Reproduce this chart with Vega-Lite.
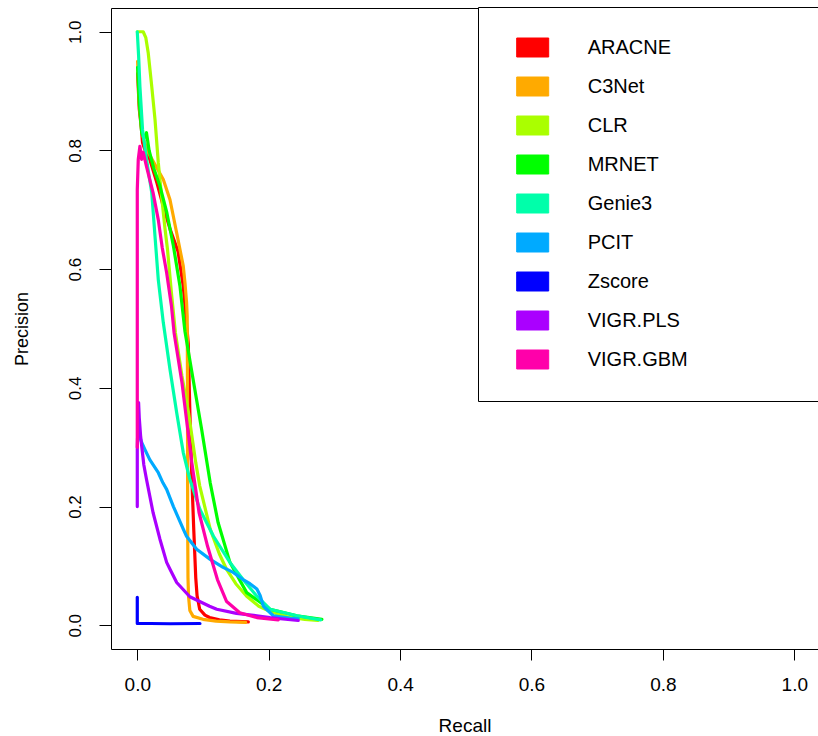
{
"$schema": "https://vega.github.io/schema/vega-lite/v6.json",
"width": 707, "height": 641,
"autosize": {"type": "none"},
"padding": {"left": 111, "top": 8, "right": 0, "bottom": 87},
"background": "white",
"config": {"font": "Liberation Sans", "view": {"stroke": "black", "strokeWidth": 1}},
"datasets": {"pr": [
{"m":"ARACNE","i":0,"r":0.0005,"p":0.93},{"m":"ARACNE","i":1,"r":0.003,"p":0.87},{"m":"ARACNE","i":2,"r":0.006,"p":0.84},{"m":"ARACNE","i":3,"r":0.008,"p":0.813},{"m":"ARACNE","i":4,"r":0.012,"p":0.80},{"m":"ARACNE","i":5,"r":0.019,"p":0.785},{"m":"ARACNE","i":6,"r":0.03,"p":0.745},{"m":"ARACNE","i":7,"r":0.0396,"p":0.706},{"m":"ARACNE","i":8,"r":0.05,"p":0.667},{"m":"ARACNE","i":9,"r":0.062,"p":0.63},{"m":"ARACNE","i":10,"r":0.07,"p":0.571},{"m":"ARACNE","i":11,"r":0.0776,"p":0.475},{"m":"ARACNE","i":12,"r":0.08,"p":0.36},{"m":"ARACNE","i":13,"r":0.083,"p":0.25},{"m":"ARACNE","i":14,"r":0.086,"p":0.16},{"m":"ARACNE","i":15,"r":0.089,"p":0.08},{"m":"ARACNE","i":16,"r":0.091,"p":0.05},{"m":"ARACNE","i":17,"r":0.095,"p":0.027},{"m":"ARACNE","i":18,"r":0.103,"p":0.017},{"m":"ARACNE","i":19,"r":0.11,"p":0.013},{"m":"ARACNE","i":20,"r":0.125,"p":0.009},{"m":"ARACNE","i":21,"r":0.141,"p":0.007},{"m":"ARACNE","i":22,"r":0.169,"p":0.0056},
{"m":"C3Net","i":0,"r":0.0005,"p":0.95},{"m":"C3Net","i":1,"r":0.003,"p":0.88},{"m":"C3Net","i":2,"r":0.007,"p":0.83},{"m":"C3Net","i":3,"r":0.015,"p":0.80},{"m":"C3Net","i":4,"r":0.025,"p":0.78},{"m":"C3Net","i":5,"r":0.0396,"p":0.751},{"m":"C3Net","i":6,"r":0.0498,"p":0.717},{"m":"C3Net","i":7,"r":0.06,"p":0.661},{"m":"C3Net","i":8,"r":0.065,"p":0.633},{"m":"C3Net","i":9,"r":0.07,"p":0.605},{"m":"C3Net","i":10,"r":0.0726,"p":0.577},{"m":"C3Net","i":11,"r":0.075,"p":0.544},{"m":"C3Net","i":12,"r":0.076,"p":0.52},{"m":"C3Net","i":13,"r":0.0763,"p":0.45},{"m":"C3Net","i":14,"r":0.0765,"p":0.35},{"m":"C3Net","i":15,"r":0.0766,"p":0.25},{"m":"C3Net","i":16,"r":0.0768,"p":0.15},{"m":"C3Net","i":17,"r":0.0772,"p":0.08},{"m":"C3Net","i":18,"r":0.078,"p":0.049},{"m":"C3Net","i":19,"r":0.08,"p":0.025},{"m":"C3Net","i":20,"r":0.085,"p":0.015},{"m":"C3Net","i":21,"r":0.1,"p":0.01},{"m":"C3Net","i":22,"r":0.12,"p":0.007},{"m":"C3Net","i":23,"r":0.141,"p":0.0056},{"m":"C3Net","i":24,"r":0.165,"p":0.005},
{"m":"CLR","i":0,"r":0,"p":1.0},{"m":"CLR","i":1,"r":0.009,"p":1.0},{"m":"CLR","i":2,"r":0.013,"p":0.99},{"m":"CLR","i":3,"r":0.0167,"p":0.964},{"m":"CLR","i":4,"r":0.022,"p":0.908},{"m":"CLR","i":5,"r":0.027,"p":0.852},{"m":"CLR","i":6,"r":0.032,"p":0.779},{"m":"CLR","i":7,"r":0.037,"p":0.723},{"m":"CLR","i":8,"r":0.042,"p":0.67},{"m":"CLR","i":9,"r":0.046,"p":0.633},{"m":"CLR","i":10,"r":0.052,"p":0.56},{"m":"CLR","i":11,"r":0.058,"p":0.493},{"m":"CLR","i":12,"r":0.068,"p":0.42},{"m":"CLR","i":13,"r":0.078,"p":0.358},{"m":"CLR","i":14,"r":0.089,"p":0.274},{"m":"CLR","i":15,"r":0.095,"p":0.235},{"m":"CLR","i":16,"r":0.111,"p":0.162},{"m":"CLR","i":17,"r":0.125,"p":0.12},{"m":"CLR","i":18,"r":0.136,"p":0.094},{"m":"CLR","i":19,"r":0.15,"p":0.07},{"m":"CLR","i":20,"r":0.1665,"p":0.049},{"m":"CLR","i":21,"r":0.185,"p":0.032},{"m":"CLR","i":22,"r":0.205,"p":0.022},{"m":"CLR","i":23,"r":0.23,"p":0.014},{"m":"CLR","i":24,"r":0.255,"p":0.01},{"m":"CLR","i":25,"r":0.275,"p":0.008},
{"m":"MRNET","i":0,"r":0.0005,"p":0.94},{"m":"MRNET","i":1,"r":0.003,"p":0.88},{"m":"MRNET","i":2,"r":0.0067,"p":0.83},{"m":"MRNET","i":3,"r":0.01,"p":0.82},{"m":"MRNET","i":4,"r":0.014,"p":0.83},{"m":"MRNET","i":5,"r":0.018,"p":0.80},{"m":"MRNET","i":6,"r":0.025,"p":0.77},{"m":"MRNET","i":7,"r":0.0345,"p":0.74},{"m":"MRNET","i":8,"r":0.045,"p":0.695},{"m":"MRNET","i":9,"r":0.055,"p":0.639},{"m":"MRNET","i":10,"r":0.065,"p":0.571},{"m":"MRNET","i":11,"r":0.0726,"p":0.495},{"m":"MRNET","i":12,"r":0.085,"p":0.414},{"m":"MRNET","i":13,"r":0.098,"p":0.33},{"m":"MRNET","i":14,"r":0.111,"p":0.24},{"m":"MRNET","i":15,"r":0.123,"p":0.173},{"m":"MRNET","i":16,"r":0.141,"p":0.106},{"m":"MRNET","i":17,"r":0.1665,"p":0.055},{"m":"MRNET","i":18,"r":0.202,"p":0.027},{"m":"MRNET","i":19,"r":0.243,"p":0.016},{"m":"MRNET","i":20,"r":0.281,"p":0.010},
{"m":"Genie3","i":0,"r":0,"p":1.0},{"m":"Genie3","i":1,"r":0.002,"p":0.96},{"m":"Genie3","i":2,"r":0.004,"p":0.908},{"m":"Genie3","i":3,"r":0.008,"p":0.835},{"m":"Genie3","i":4,"r":0.014,"p":0.785},{"m":"Genie3","i":5,"r":0.022,"p":0.729},{"m":"Genie3","i":6,"r":0.027,"p":0.655},{"m":"Genie3","i":7,"r":0.032,"p":0.582},{"m":"Genie3","i":8,"r":0.0396,"p":0.51},{"m":"Genie3","i":9,"r":0.0498,"p":0.431},{"m":"Genie3","i":10,"r":0.06,"p":0.358},{"m":"Genie3","i":11,"r":0.07,"p":0.291},{"m":"Genie3","i":12,"r":0.08,"p":0.246},{"m":"Genie3","i":13,"r":0.0954,"p":0.195},{"m":"Genie3","i":14,"r":0.116,"p":0.15},{"m":"Genie3","i":15,"r":0.141,"p":0.106},{"m":"Genie3","i":16,"r":0.161,"p":0.077},{"m":"Genie3","i":17,"r":0.182,"p":0.049},{"m":"Genie3","i":18,"r":0.202,"p":0.027},{"m":"Genie3","i":19,"r":0.243,"p":0.016},{"m":"Genie3","i":20,"r":0.279,"p":0.009},
{"m":"PCIT","i":0,"r":0.001,"p":0.34},{"m":"PCIT","i":1,"r":0.003,"p":0.32},{"m":"PCIT","i":2,"r":0.0067,"p":0.308},{"m":"PCIT","i":3,"r":0.0117,"p":0.296},{"m":"PCIT","i":4,"r":0.019,"p":0.279},{"m":"PCIT","i":5,"r":0.032,"p":0.257},{"m":"PCIT","i":6,"r":0.039,"p":0.24},{"m":"PCIT","i":7,"r":0.0447,"p":0.229},{"m":"PCIT","i":8,"r":0.055,"p":0.2},{"m":"PCIT","i":9,"r":0.07,"p":0.162},{"m":"PCIT","i":10,"r":0.075,"p":0.15},{"m":"PCIT","i":11,"r":0.0904,"p":0.128},{"m":"PCIT","i":12,"r":0.111,"p":0.111},{"m":"PCIT","i":13,"r":0.13,"p":0.098},{"m":"PCIT","i":14,"r":0.146,"p":0.089},{"m":"PCIT","i":15,"r":0.161,"p":0.077},{"m":"PCIT","i":16,"r":0.1715,"p":0.07},{"m":"PCIT","i":17,"r":0.182,"p":0.061},{"m":"PCIT","i":18,"r":0.187,"p":0.05},{"m":"PCIT","i":19,"r":0.192,"p":0.032},{"m":"PCIT","i":20,"r":0.207,"p":0.016},{"m":"PCIT","i":21,"r":0.232,"p":0.012},{"m":"PCIT","i":22,"r":0.245,"p":0.011},
{"m":"Zscore","i":0,"r":0,"p":0.047},{"m":"Zscore","i":1,"r":0,"p":0.003},{"m":"Zscore","i":2,"r":0.02,"p":0.003},{"m":"Zscore","i":3,"r":0.05,"p":0.0025},{"m":"Zscore","i":4,"r":0.0954,"p":0.003},
{"m":"VIGR.PLS","i":0,"r":0,"p":0.2},{"m":"VIGR.PLS","i":1,"r":0,"p":0.30},{"m":"VIGR.PLS","i":2,"r":0.002,"p":0.375},{"m":"VIGR.PLS","i":3,"r":0.003,"p":0.35},{"m":"VIGR.PLS","i":4,"r":0.005,"p":0.32},{"m":"VIGR.PLS","i":5,"r":0.0067,"p":0.302},{"m":"VIGR.PLS","i":6,"r":0.01,"p":0.27},{"m":"VIGR.PLS","i":7,"r":0.014,"p":0.246},{"m":"VIGR.PLS","i":8,"r":0.024,"p":0.19},{"m":"VIGR.PLS","i":9,"r":0.0345,"p":0.145},{"m":"VIGR.PLS","i":10,"r":0.0447,"p":0.106},{"m":"VIGR.PLS","i":11,"r":0.05,"p":0.094},{"m":"VIGR.PLS","i":12,"r":0.06,"p":0.072},{"m":"VIGR.PLS","i":13,"r":0.08,"p":0.048},{"m":"VIGR.PLS","i":14,"r":0.11,"p":0.032},{"m":"VIGR.PLS","i":15,"r":0.121,"p":0.027},{"m":"VIGR.PLS","i":16,"r":0.151,"p":0.02},{"m":"VIGR.PLS","i":17,"r":0.182,"p":0.016},{"m":"VIGR.PLS","i":18,"r":0.202,"p":0.013},{"m":"VIGR.PLS","i":19,"r":0.245,"p":0.008},
{"m":"VIGR.GBM","i":0,"r":0,"p":0.30},{"m":"VIGR.GBM","i":1,"r":0,"p":0.5},{"m":"VIGR.GBM","i":2,"r":0,"p":0.734},{"m":"VIGR.GBM","i":3,"r":0.0015,"p":0.785},{"m":"VIGR.GBM","i":4,"r":0.004,"p":0.807},{"m":"VIGR.GBM","i":5,"r":0.0066,"p":0.785},{"m":"VIGR.GBM","i":6,"r":0.009,"p":0.797},{"m":"VIGR.GBM","i":7,"r":0.014,"p":0.773},{"m":"VIGR.GBM","i":8,"r":0.019,"p":0.751},{"m":"VIGR.GBM","i":9,"r":0.024,"p":0.729},{"m":"VIGR.GBM","i":10,"r":0.032,"p":0.683},{"m":"VIGR.GBM","i":11,"r":0.038,"p":0.636},{"m":"VIGR.GBM","i":12,"r":0.0447,"p":0.594},{"m":"VIGR.GBM","i":13,"r":0.052,"p":0.538},{"m":"VIGR.GBM","i":14,"r":0.056,"p":0.493},{"m":"VIGR.GBM","i":15,"r":0.068,"p":0.409},{"m":"VIGR.GBM","i":16,"r":0.083,"p":0.274},{"m":"VIGR.GBM","i":17,"r":0.094,"p":0.19},{"m":"VIGR.GBM","i":18,"r":0.107,"p":0.133},{"m":"VIGR.GBM","i":19,"r":0.122,"p":0.077},{"m":"VIGR.GBM","i":20,"r":0.136,"p":0.04},{"m":"VIGR.GBM","i":21,"r":0.156,"p":0.021},{"m":"VIGR.GBM","i":22,"r":0.182,"p":0.013},{"m":"VIGR.GBM","i":23,"r":0.2146,"p":0.009}
]},
"data": {"name": "pr"},
"mark": {"type": "line", "strokeWidth": 3.2, "strokeCap": "round", "strokeJoin": "round"},
"encoding": {
  "x": {"field": "r", "type": "quantitative",
    "scale": {"domain": [-0.04, 1.0361], "nice": false, "zero": false},
    "axis": {"title": "Recall", "values": [0, 0.2, 0.4, 0.6, 0.8, 1], "format": ".1f", "grid": false, "domain": false,
      "tickSize": 11, "tickColor": "black", "tickWidth": 1, "labelFontSize": 19, "labelColor": "black", "labelPadding": 15,
      "labelFlush": false, "labelOverlap": false, "titleFontSize": 19, "titleFontWeight": "normal", "titleColor": "black", "titlePadding": 22.5}},
  "y": {"field": "p", "type": "quantitative",
    "scale": {"domain": [-0.04, 1.04], "nice": false, "zero": false},
    "axis": {"title": "Precision", "values": [0, 0.2, 0.4, 0.6, 0.8, 1], "format": ".1f", "grid": false, "domain": false,
      "tickSize": 12, "tickColor": "black", "tickWidth": 1, "labelFontSize": 17, "labelColor": "black", "labelPadding": 15,
      "labelAngle": -90, "labelAlign": "center", "labelBaseline": "bottom",
      "labelFlush": false, "labelOverlap": false, "titleFontSize": 18, "titleFontWeight": "normal", "titleColor": "black", "titlePadding": 35}},
  "color": {"field": "m", "type": "nominal",
    "scale": {"domain": ["ARACNE", "C3Net", "CLR", "MRNET", "Genie3", "PCIT", "Zscore", "VIGR.PLS", "VIGR.GBM"],
      "range": ["#FF0000", "#FFAA00", "#AAFF00", "#00FF00", "#00FFAA", "#00AAFF", "#0000FF", "#AA00FF", "#FF00AA"]},
    "legend": {"title": "MMMMMM", "titleOrient": "right", "titleFontSize": 20, "titlePadding": 10, "titleLimit": 1000,
      "titleColor": "white", "titleOpacity": 0,
      "orient": "none", "legendX": 367, "legendY": -1, "fillColor": "white", "strokeColor": "black", "padding": 30,
      "symbolType": "M-1.6,-0.95H1.6V0.95H-1.6Z", "symbolSize": 400, "symbolStrokeWidth": 1, "symbolStrokeColor": "black",
      "symbolOffset": 14.2,
      "labelFontSize": 20, "labelColor": "black", "labelOffset": 44.5, "labelLimit": 600, "rowPadding": 16,
      "encode": {"symbols": {"update": {"fill": {"scale": "color", "field": "value"}, "stroke": {"value": "black"}, "strokeWidth": {"value": 1}, "fillOpacity": {"value": 1}, "opacity": {"value": 1}}}}}},
  "order": {"field": "i", "type": "quantitative"}
}
}
